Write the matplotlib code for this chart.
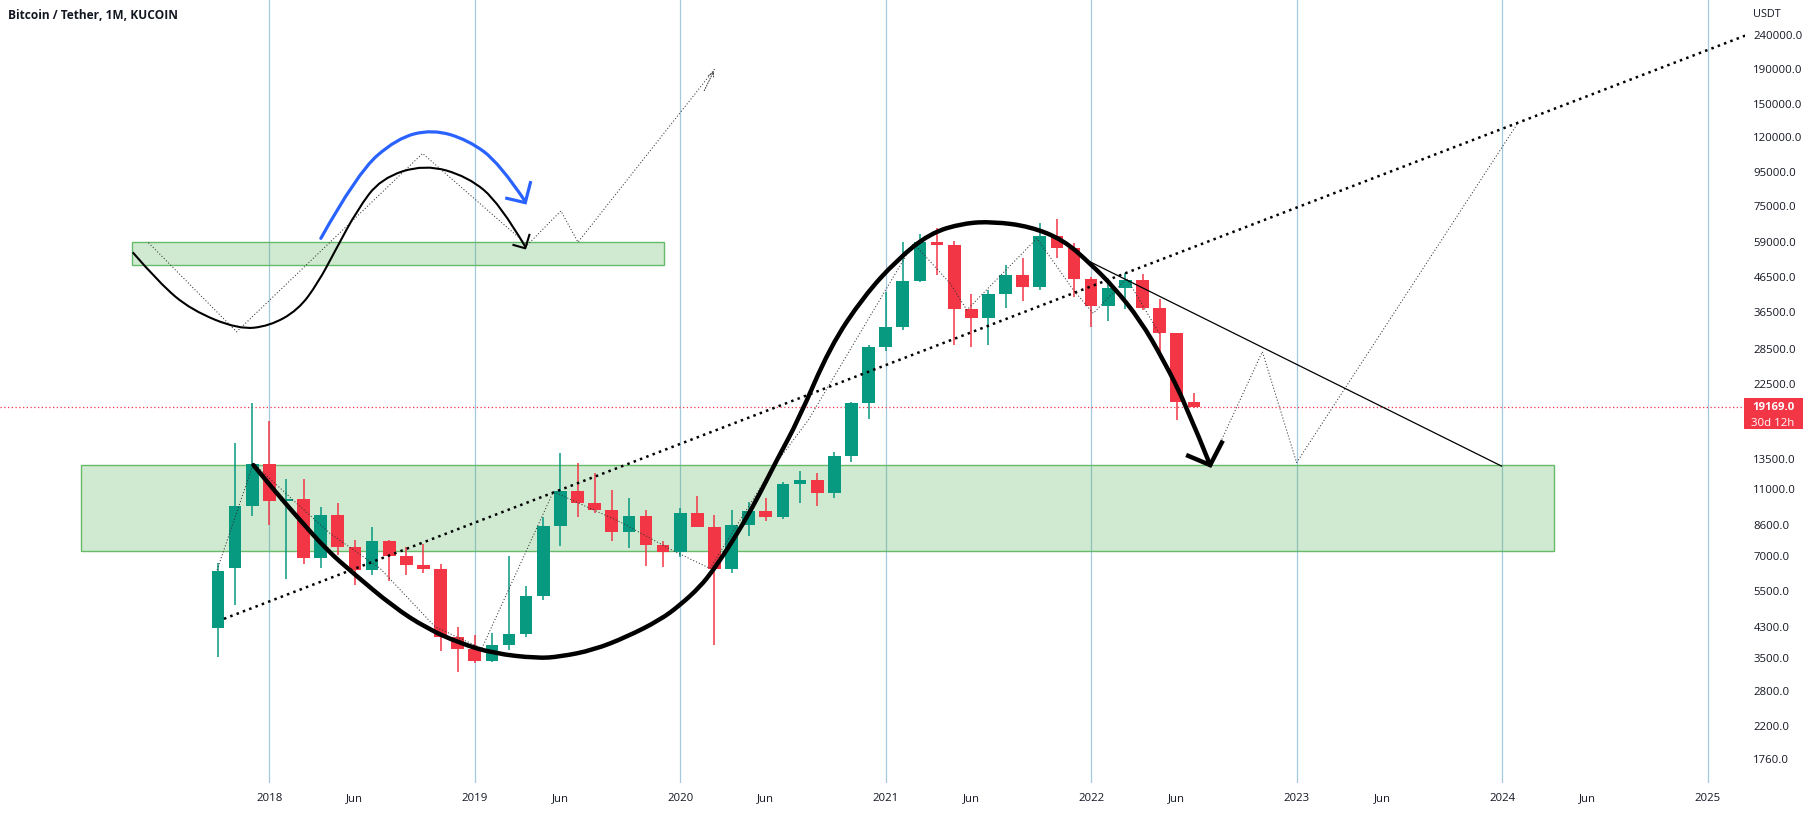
import numpy as np
import matplotlib
matplotlib.use("Agg")
import matplotlib.pyplot as plt
from matplotlib.path import Path
from matplotlib.patches import PathPatch, Rectangle
from matplotlib.transforms import IdentityTransform
from matplotlib.ticker import NullLocator

plt.rcParams['font.family'] = ['Open Sans', 'DejaVu Sans']

# monthly candles BTC/USDT (KuCoin), month index: Jan 2018 = 0
months = np.arange(-3, 55)
opens = [4292, 6450, 9806, 13015, 10166, 10300, 6905, 9225, 7439, 6351, 7732, 6999, 6584, 6381,
         4038, 3707, 3431, 3817, 4113, 5323, 8562, 10880, 10029, 9544, 8237, 9144, 7541, 7191,
         9351, 8521, 6408, 8602, 9480, 9120, 11386, 11700, 10734, 13771, 19773, 28920, 33127,
         45179, 58870, 57565, 37280, 35071, 41356, 47061, 43455, 61315, 56635, 45894, 38205,
         42988, 45488, 37535, 31675, 19920]
highs = [6647, 15072, 19734, 17499, 11779, 11779, 9720, 10029, 7785, 8521, 7785, 7439, 7577, 6602,
         4322, 4085, 4132, 6984, 5697, 9120, 14050, 13100, 12294, 10932, 10376, 9544, 7749, 9655,
         10475, 9225, 9544, 10098, 10376, 11566, 12463, 12245, 14178, 19900, 29257, 41900, 58987,
         62030, 64608, 59200, 41356, 42492, 50364, 52917, 66840, 68676, 58600, 46518, 45488,
         47801, 47382, 40064, 31806, 21077]
lows = [3526, 5008, 9182, 8620, 5975, 6615, 6451, 7032, 5736, 6139, 5893, 6139, 6236, 3672,
        3184, 3371, 3390, 3689, 4038, 5181, 7475, 9120, 9371, 7749, 7359, 6539, 6468, 6923,
        8490, 3817, 6210, 8016, 8875, 8960, 10029, 9806, 10376, 13248, 17666, 28100, 32393,
        45000, 47061, 29257, 28920, 29257, 37535, 39522, 42492, 52700, 40613, 32991, 34503,
        37280, 37102, 27019, 17583, 19050]
closes = [6306, 9806, 13015, 10166, 10300, 6905, 9225, 7439, 6351, 7732, 6999, 6584, 6381, 4038,
          3707, 3431, 3817, 4113, 5323, 8562, 10880, 10029, 9544, 8237, 9144, 7541, 7191, 9351,
          8521, 6408, 8602, 9480, 9120, 11386, 11700, 10734, 13771, 19773, 28920, 33127, 45179,
          58870, 57565, 37280, 35071, 41356, 47061, 43455, 61315, 56635, 45894, 38205, 42988,
          45488, 37535, 31675, 19920, 19169]

price_ticks = [240000, 190000, 150000, 120000, 95000, 75000, 59000, 46500, 36500, 28500,
               22500, 13500, 11000, 8600, 7000, 5500, 4300, 3500, 2800, 2200, 1760]
time_ticks = [0, 5, 12, 17, 24, 29, 36, 41, 48, 53, 60, 65, 72, 77, 84]
time_labels = ['2018', 'Jun', '2019', 'Jun', '2020', 'Jun', '2021', 'Jun', '2022', 'Jun',
               '2023', 'Jun', '2024', 'Jun', '2025']
year_lines = [0, 12, 24, 36, 48, 60, 72, 84]

# drawings (month, price)
low_zone_m = [-11.0, 75.04]
low_zone_p = [7224, 12955]
up_zone_m = [-8.03, 23.04]
up_zone_p = [50370, 58880]

s_curve_m = [-7.98, -6.41, -4.56, -1.79, 0.01, 1.68, 2.83, 3.87, 5.13, 6.52, 9.07, 11.61, 13.45, 14.95]
s_curve_p = [54900, 44480, 37100, 32530, 33280, 37100, 44480, 55760, 73160, 90730, 99800,
             91700, 76560, 57030]
s_head_m = [14.26, 14.95, 15.19]
s_head_p = [57700, 56400, 61800]

blue_m = [3.01, 5.13, 7.45, 9.53, 11.61, 13.45, 14.95]
blue_p = [60350, 93900, 119100, 126500, 117700, 100500, 77500]
blue_head_m = [13.87, 14.95, 15.25]
blue_head_p = [79200, 76900, 88100]

zig_up_m = [-7.06, -1.91, 8.95, 15.07, 17.03, 18.03, 26.04]
zig_up_p = [58600, 32000, 107400, 57700, 72700, 58800, 191400]

big_m = [-0.93, 0.43, 1.79, 3.35, 4.91, 7.24, 9.19, 11.14, 13.08, 15.62, 16.98, 18.93, 20.88,
         22.82, 23.99, 25.16, 25.93, 26.72, 27.69, 28.66, 29.64, 30.90, 32.75, 34.70, 36.65,
         38.59, 40.54, 42.29, 44.43, 46.38, 47.94, 49.30, 50.86, 52.22, 53.59, 54.95]
big_p = [12950, 10690, 8920, 7280, 6210, 4950, 4275, 3863, 3608, 3488, 3526, 3690, 4035,
         4525, 5005, 5670, 6350, 7280, 8720, 10690, 13400, 17580, 28900, 40580, 52100,
         62500, 66900, 67600, 65400, 59700, 50900, 43470, 34680, 26440, 19250, 12950]
big_head_m = [53.55, 54.95, 55.69]
big_head_p = [13870, 12950, 15290]

trend_m = [-2.65, 86.2]
trend_p = [4560, 239000]

path_m = [-3.05, -0.93, 1.50, 3.55, 6.47, 9.68, 12.41, 16.59, 20.48, 23.70, 25.74, 29.44,
          31.48, 37.62, 39.76, 40.74, 44.83, 46.96, 48.13, 50.08, 52.03]
path_p = [6350, 13100, 10090, 8140, 6420, 4320, 3730, 10810, 8810, 7190, 6420, 12800,
          17580, 58400, 44480, 37100, 60350, 42500, 36270, 45960, 31330]

zz_m = [55.63, 58.00, 60.00, 72.91]
zz_p = [15410, 27960, 13170, 131800]

res_m = [47.94, 71.97]
res_p = [51460, 12860]

UP = '#089981'
DOWN = '#f23645'
TXT = '#131722'


def smooth(xs, ys):
    # quadratic bezier through midpoints (midpoints taken in log price)
    verts = [(xs[0], ys[0])]
    codes = [Path.MOVETO]
    n = len(xs)
    for i in range(1, n - 1):
        if i == n - 2:
            end = (xs[-1], ys[-1])
        else:
            end = ((xs[i] + xs[i + 1]) / 2, np.sqrt(ys[i] * ys[i + 1]))
        verts += [(xs[i], ys[i]), end]
        codes += [Path.CURVE3, Path.CURVE3]
    return Path(verts, codes)


fig = plt.figure(figsize=(18.14, 8.13), dpi=100)
ax = fig.add_axes([0, 30 / 813, 1745 / 1814, 783 / 813])
ax.set_yscale('log')
ax.set_xlim(-15.73, 86.19)
ax.set_ylim(1496, 304370)
for s in ax.spines.values():
    s.set_visible(False)

for m in year_lines:
    ax.axvline(m, color='#a3c8e0', lw=0.9, zorder=0)

# zones
for zm, zp in [(low_zone_m, low_zone_p), (up_zone_m, up_zone_p)]:
    ax.add_patch(Rectangle((zm[0], zp[0]), zm[1] - zm[0], zp[1] - zp[0],
                           facecolor=(0.298, 0.686, 0.314, 0.26), edgecolor='#66bb6a',
                           lw=1.0, zorder=1))

# candles
for m, o, h, l, c in zip(months, opens, highs, lows, closes):
    col = UP if c >= o else DOWN
    ax.vlines(m, l, h, color=col, lw=1.1, zorder=3)
    ax.bar(m, c - o, bottom=o, width=0.74, color=col, zorder=3, linewidth=0)

# last price line
last = closes[-1]
ax.axhline(last, color=DOWN, lw=0.9, ls=(0, (1, 2)), zorder=2)

# drawings
ax.plot(trend_m, trend_p, color='black', lw=1.8, ls=(0, (1, 1.7)), zorder=4)
ax.plot(path_m, path_p, color='#333333', lw=0.75, ls=(0, (1, 2)), zorder=4)
ax.plot(zig_up_m, zig_up_p, color='#333333', lw=0.75, ls=(0, (1, 2)), zorder=4)
ax.annotate('', xy=(zig_up_m[-1], zig_up_p[-1]), xytext=(zig_up_m[-2] + 7.3, zig_up_p[-2] * 2.75),
            arrowprops=dict(arrowstyle='->', color='#333333', lw=0.7, linestyle=':'))
ax.plot(zz_m, zz_p, color='#333333', lw=0.75, ls=(0, (1, 2)), zorder=4)
ax.plot(res_m, res_p, color='black', lw=0.9, zorder=4)

ax.add_patch(PathPatch(smooth(big_m, big_p), fill=False, ec='black', lw=3.2,
                       capstyle='round', zorder=5))
ax.plot(big_head_m, big_head_p, color='black', lw=3.2, solid_capstyle='butt',
        solid_joinstyle='miter', zorder=5)

ax.add_patch(PathPatch(smooth(s_curve_m, s_curve_p), fill=False, ec='black', lw=1.5, zorder=5))
ax.plot(s_head_m, s_head_p, color='black', lw=1.5, zorder=5)

ax.add_patch(PathPatch(smooth(blue_m, blue_p), fill=False, ec='#2962ff', lw=2.3,
                       capstyle='round', zorder=5))
ax.plot(blue_head_m, blue_head_p, color='#2962ff', lw=2.3, solid_joinstyle='miter', zorder=5)

# axes ticks
ax.yaxis.tick_right()
ax.set_yticks(price_ticks)
ax.set_yticklabels(['%.1f' % p for p in price_ticks])
ax.yaxis.set_minor_locator(NullLocator())
ax.tick_params(axis='y', length=0, pad=6, labelsize=8.2, labelcolor=TXT)
ax.set_xticks(time_ticks)
ax.set_xticklabels(time_labels)
ax.tick_params(axis='x', length=0, pad=7, labelsize=8.2, labelcolor=TXT)

# price label on the scale
yd = ax.transData.transform((0, last))[1]
fig.add_artist(Rectangle((1744, yd - 22), 59, 31, facecolor=DOWN, edgecolor='none',
                         transform=IdentityTransform()))
fig.text(1773, yd, '19169.0', color='white', fontsize=8.2, fontweight='bold',
         ha='center', va='center', transform=IdentityTransform())
fig.text(1773, yd - 16, '30d 12h', color='white', fontsize=8.2,
         ha='center', va='center', transform=IdentityTransform())

fig.text(1753, 813 - 14, 'USDT', color=TXT, fontsize=7.8, ha='left', va='center',
         transform=IdentityTransform())
fig.text(8, 813 - 15, 'Bitcoin / Tether, 1M, KUCOIN', color=TXT, fontsize=8.6,
         fontweight='bold', ha='left', va='center', transform=IdentityTransform())

fig.savefig('out.png', dpi=100, facecolor='white')
